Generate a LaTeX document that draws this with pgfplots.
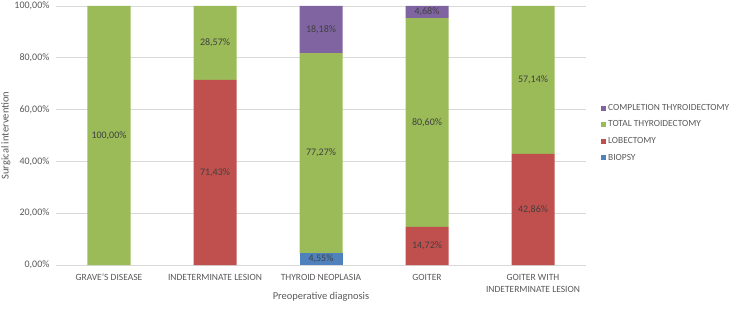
\documentclass[border=0pt]{standalone}
\usepackage{pgfplots}
\pgfplotsset{compat=1.18}
\usepackage{fontspec}
\setmainfont{Carlito}
\definecolor{cBlue}{HTML}{4F81BD}
\definecolor{cRed}{HTML}{C0504D}
\definecolor{cGreen}{HTML}{9BBB59}
\definecolor{cPurple}{HTML}{8064A2}
\definecolor{tickgray}{HTML}{595959}
\definecolor{labgray}{HTML}{404040}
\definecolor{gridgray}{HTML}{D9D9D9}
\begin{document}
\begin{tikzpicture}
\useasboundingbox (-56bp,-45bp) rectangle (676bp,265bp);
\begin{axis}[
  at={(0,0)}, anchor=south west,
  x=106bp, y=2.59bp,
  scale only axis,
  xmin=-0.5, xmax=4.5, ymin=0, ymax=100,
  ybar stacked, bar width=43bp,
  axis line style={draw=none},
  major tick length=0pt,
  ymajorgrids, grid style={gridgray, line width=0.8pt},
  ytick={0,20,40,60,80,100},
  yticklabels={{0,00\%},{20,00\%},{40,00\%},{60,00\%},{80,00\%},{100,00\%}},
  xtick={0,1,2,3,4},
  xticklabels={GRAVE'S DISEASE, INDETERMINATE LESION, THYROID NEOPLASIA, GOITER, {GOITER WITH\\INDETERMINATE LESION}},
  xticklabel style={align=center, font=\fontsize{9.5bp}{12bp}\selectfont, text=tickgray, inner sep=0pt, yshift=-9bp},
  yticklabel style={font=\fontsize{10bp}{12bp}\selectfont, text=tickgray, xshift=-3bp},
  xlabel={Preoperative diagnosis},
  ylabel={Surgical intervention},
  xlabel style={at={(axis description cs:0.5,0)}, anchor=center, yshift=-32bp, font=\fontsize{10.5bp}{12bp}\selectfont, text=tickgray},
  ylabel style={at={(axis description cs:0,0.5)}, anchor=center, yshift=50bp, font=\fontsize{10.5bp}{12bp}\selectfont, text=tickgray},
  legend style={at={(1,0.51)}, anchor=west, xshift=15bp, draw=none, fill=none, font=\fontsize{9.4bp}{11bp}\selectfont, text=tickgray, row sep=5bp, inner sep=0pt},
  legend cell align=left,
  reverse legend,
  legend image code/.code={\fill[#1] (0bp,-2.5bp) rectangle (5bp,2.5bp);},
]
\addplot[fill=cBlue, draw=none] coordinates {(0,0) (1,0) (2,4.55) (3,0) (4,0)};
\addlegendentry{BIOPSY}
\addplot[fill=cRed, draw=none] coordinates {(0,0) (1,71.43) (2,0) (3,14.72) (4,42.86)};
\addlegendentry{LOBECTOMY}
\addplot[fill=cGreen, draw=none] coordinates {(0,100) (1,28.57) (2,77.27) (3,80.60) (4,57.14)};
\addlegendentry{TOTAL THYROIDECTOMY}
\addplot[fill=cPurple, draw=none] coordinates {(0,0) (1,0) (2,18.18) (3,4.68) (4,0)};
\addlegendentry{COMPLETION THYROIDECTOMY}
\end{axis}
\begin{axis}[
  at={(0,0)}, anchor=south west,
  x=106bp, y=2.59bp,
  scale only axis,
  xmin=-0.5, xmax=4.5, ymin=0, ymax=100,
  hide axis,
  point meta=explicit symbolic,
  nodes near coords,
  nodes near coords style={anchor=center, inner sep=0pt, font=\fontsize{10bp}{12bp}\selectfont, text=labgray},
]
\addplot[draw=none, mark=none, only marks] coordinates {
  (2,2.275) [4,55\%]
  (1,35.715) [71,43\%] (3,7.36) [14,72\%] (4,21.43) [42,86\%]
  (0,50) [100,00\%] (1,85.715) [28,57\%] (2,43.185) [77,27\%] (3,55.02) [80,60\%] (4,71.43) [57,14\%]
  (2,90.91) [18,18\%] (3,97.66) [4,68\%]
};
\end{axis}
\end{tikzpicture}
\end{document}
